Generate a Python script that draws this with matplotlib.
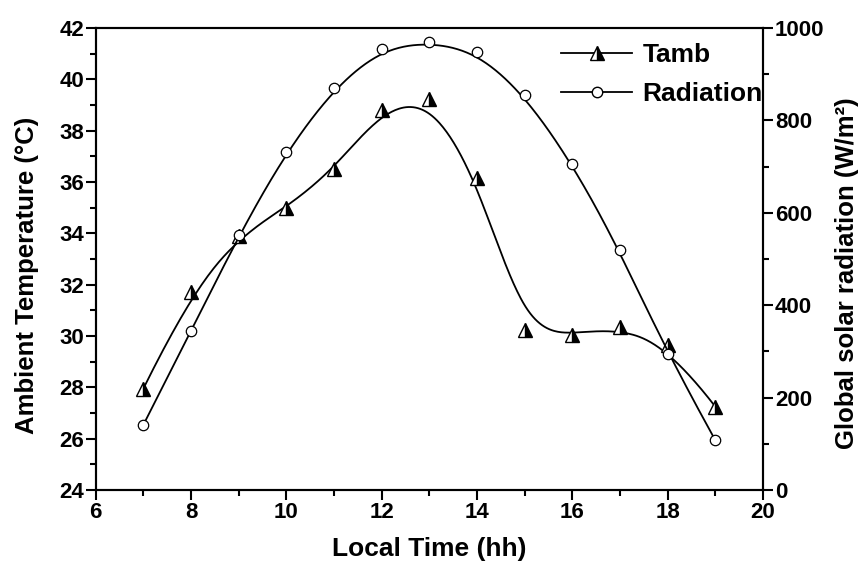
import numpy as np
import matplotlib
matplotlib.use("Agg")
import matplotlib.pyplot as plt
from matplotlib.ticker import MultipleLocator
from matplotlib.lines import Line2D

hours = [7, 8, 9, 10, 11, 12, 13, 14, 15, 16, 17, 18, 19]
tamb = [27.95, 31.7, 33.9, 35.0, 36.5, 38.8, 39.25, 36.15, 30.25, 30.05, 30.35, 29.65, 27.25]
radiation = [141, 345, 552, 732, 870, 955, 970, 948, 855, 706, 519, 294, 108]


def bspline(xs, ys, n=400):
    # clamped cubic B-spline using the points as control points (Origin style)
    pts = np.column_stack([xs, ys]).astype(float)
    k = 3
    m = len(pts)
    knots = np.concatenate([np.zeros(k), np.linspace(0, 1, m - k + 1), np.ones(k)])
    t = np.linspace(0, 1, n)
    t[-1] = 1 - 1e-10

    def basis(i, p, u):
        if p == 0:
            return ((knots[i] <= u) & (u < knots[i + 1])).astype(float)
        a = 0.0
        b = 0.0
        d1 = knots[i + p] - knots[i]
        d2 = knots[i + p + 1] - knots[i + 1]
        if d1 > 0:
            a = (u - knots[i]) / d1 * basis(i, p - 1, u)
        if d2 > 0:
            b = (knots[i + p + 1] - u) / d2 * basis(i + 1, p - 1, u)
        return a + b

    B = np.array([basis(i, k, t) for i in range(m)])
    curve = B.T @ pts
    return curve[:, 0], curve[:, 1]


plt.rcParams["font.family"] = "Liberation Sans"
plt.rcParams["font.weight"] = "bold"

fig = plt.figure(figsize=(8.66, 5.65), dpi=100)
ax = fig.add_axes([0.1105, 0.1327, 0.7705, 0.8177])
ax2 = ax.twinx()

cx, cy = bspline(hours, tamb)
ax.plot(cx, cy, color="black", lw=1.3)
ax.plot(hours, tamb, ls="none", marker="^", ms=9.5, mec="black", mew=1.0,
        mfc="black", fillstyle="right", markerfacecoloralt="white")

rx, ry = bspline(hours, radiation)
ax2.plot(rx, ry, color="black", lw=1.3)
ax2.plot(hours, radiation, ls="none", marker="o", ms=7.5, mec="black", mew=0.9,
         mfc="white")

ax.set_xlim(6, 20)
ax.set_ylim(24, 42)
ax2.set_ylim(0, 1000)

ax.xaxis.set_major_locator(MultipleLocator(2))
ax.xaxis.set_minor_locator(MultipleLocator(1))
ax.yaxis.set_major_locator(MultipleLocator(2))
ax.yaxis.set_minor_locator(MultipleLocator(1))
ax2.yaxis.set_major_locator(MultipleLocator(200))
ax2.yaxis.set_minor_locator(MultipleLocator(100))

for a in (ax, ax2):
    for s in a.spines.values():
        s.set_linewidth(1.5)
    a.tick_params(which="major", length=7, width=1.5, direction="out", labelsize=16, pad=1.5)
    a.tick_params(which="minor", length=4, width=1.5, direction="out")

ax.tick_params(axis="x", top=False, which="both")
ax.tick_params(axis="y", right=False, which="both")

ax.set_xlabel("Local Time (hh)", fontsize=19, fontweight="bold")
ax.set_ylabel("Ambient Temperature (°C)", fontsize=18.5, fontweight="bold")
ax2.set_ylabel("Global solar radiation (W/m²)", fontsize=18.5, fontweight="bold",
               rotation=90)
ax.xaxis.set_label_coords(0.5, -0.102)
ax.yaxis.set_label_coords(-0.085, 0.465)
ax2.yaxis.set_label_coords(1.108, 0.47)

handles = [
    Line2D([], [], color="black", lw=1.3, marker="^", ms=9.5, mec="black",
           mfc="black", fillstyle="right", markerfacecoloralt="white"),
    Line2D([], [], color="black", lw=1.3, marker="o", ms=7.5, mec="black",
           mfc="white"),
]
ax2.legend(handles, ["Tamb", "Radiation"], loc="upper right", frameon=False,
           fontsize=19, handlelength=2.7, handletextpad=0.38, labelspacing=0.55,
           borderaxespad=0.0, borderpad=0.2,
           bbox_to_anchor=(1.0 + 5 / 667, 1.0 - 10 / 462))

fig.savefig("out.png", dpi=100)
